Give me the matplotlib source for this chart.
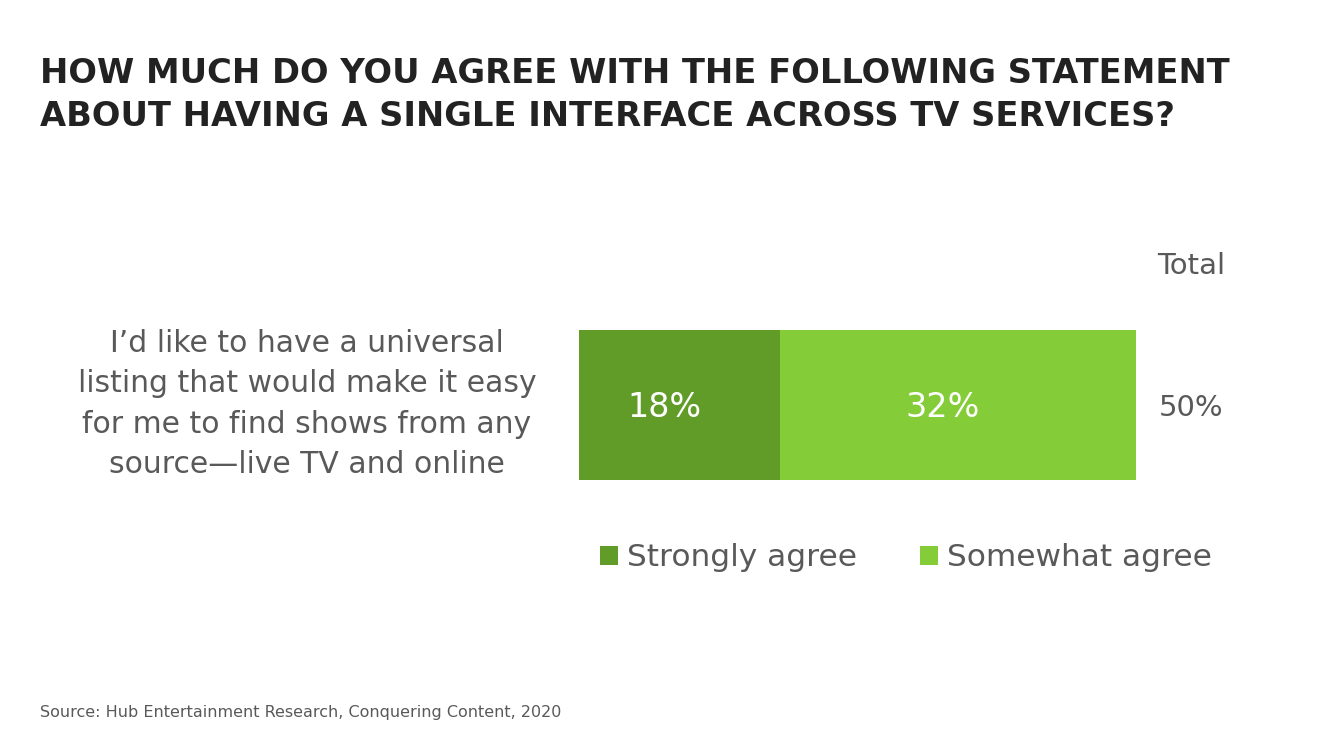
import matplotlib.pyplot as plt

# Data
statement = "I’d like to have a universal\nlisting that would make it easy\nfor me to find shows from any\nsource—live TV and online"
series = ["Strongly agree", "Somewhat agree"]
values = [18, 32]
colors = ["#629C28", "#84CC38"]
total = sum(values)

plt.rcParams['font.family'] = ['DejaVu Sans']
W, H = 1334, 749
fig = plt.figure(figsize=(W / 100, H / 100), dpi=100)

def px(x, y):
    return x / W, 1 - y / H

# bar axes: 579..1136 px wide, 330..480 px tall
ax = fig.add_axes([579 / W, 1 - 480 / H, (1136 - 579) / W, 150 / H])
left = 0
for name, v, c in zip(series, values, colors):
    ax.barh(0, v, left=left, height=1, color=c, label=name)
    ax.annotate(f"{v}%", (left + v / 2, 0), xytext=(-11, -2), textcoords='offset points',
                ha='center', va='center', color='white', fontsize=24)
    left += v
ax.set_xlim(0, total)
ax.set_ylim(-0.5, 0.5)
ax.axis('off')

gray = "#595959"
fig.text(*px(40, 95), "HOW MUCH DO YOU AGREE WITH THE FOLLOWING STATEMENT\nABOUT HAVING A SINGLE INTERFACE ACROSS TV SERVICES?",
         ha='left', va='center', fontsize=24.3, fontweight='bold', color='#222222', linespacing=1.4)
fig.text(*px(307, 404), statement, ha='center', va='center', fontsize=21.5, color=gray, linespacing=1.48)
fig.text(*px(1191, 266), "Total", ha='center', va='center', fontsize=21, color=gray)
fig.text(*px(1191, 408), f"{total}%", ha='center', va='center', fontsize=21, color=gray)

leg = fig.legend(loc='center', bbox_to_anchor=px(906, 558), ncol=2, frameon=False,
                 fontsize=22.5, handlelength=0.58, handleheight=0.58, handletextpad=0.3,
                 columnspacing=2.0, labelcolor=gray)

fig.text(*px(40, 712), "Source: Hub Entertainment Research, Conquering Content, 2020",
         ha='left', va='center', fontsize=11.5, color=gray)

fig.savefig("out.png", dpi=100)
